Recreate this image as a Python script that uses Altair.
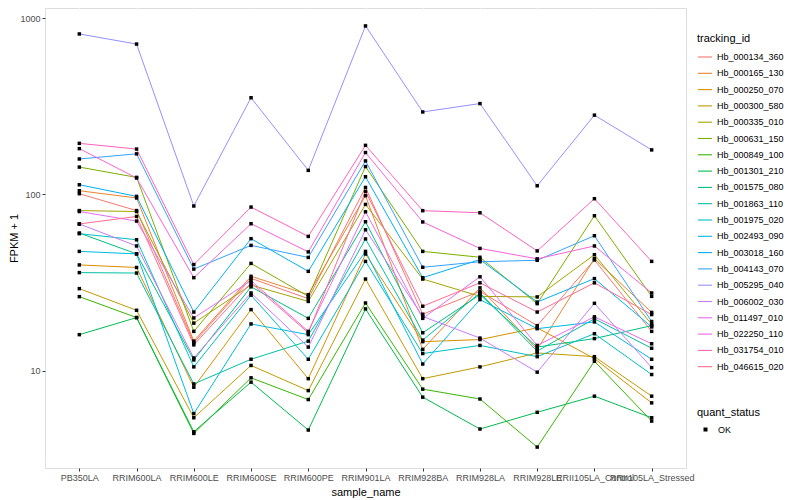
import altair as alt
import pandas as pd

samples = ["PB350LA", "RRIM600LA", "RRIM600LE", "RRIM600SE", "RRIM600PE", "RRIM901LA",
           "RRIM928BA", "RRIM928LA", "RRIM928LE", "RRII105LA_Control", "RRII105LA_Stressed"]

tracking_ids = ["Hb_000134_360", "Hb_000165_130", "Hb_000250_070", "Hb_000300_580",
                "Hb_000335_010", "Hb_000631_150", "Hb_000849_100", "Hb_001301_210",
                "Hb_001575_080", "Hb_001863_110", "Hb_001975_020", "Hb_002493_090",
                "Hb_003018_160", "Hb_004143_070", "Hb_005295_040", "Hb_006002_030",
                "Hb_011497_010", "Hb_022250_110", "Hb_031754_010", "Hb_046615_020"]

# FPKM + 1 per sample, one list per tracking_id
hb_000134_360 = [101, 81, 14.4, 33.4, 25.6, 109.6, 20.9, 28.2, 18.0, 42.5, 16.7]
hb_000165_130 = [105, 95.5, 14.7, 34.3, 27.0, 98.4, 13.2, 29.5, 13.2, 43.2, 21.4]
hb_000250_070 = [39.8, 38.5, 8.05, 22.2, 9.0, 45.9, 14.6, 15.0, 17.5, 11.7, 6.56]
hb_000300_580 = [29.2, 22, 5.4, 10.7, 7.7, 33.1, 9.0, 10.5, 12.6, 12.0, 7.16]
hb_000335_010 = [81, 80, 18.6, 30.6, 24.7, 87.8, 33.1, 26.4, 26.2, 45.5, 18.3]
hb_000631_150 = [143, 125, 16.7, 40.6, 26.4, 144, 47.5, 44.0, 24.0, 75.7, 26.4]
hb_000849_100 = [26.3, 20, 4.4, 9.1, 6.85, 24.2, 7.85, 6.9, 3.68, 11.3, 5.17]
hb_001301_210 = [16, 20, 4.5, 8.6, 4.6, 22.4, 7.07, 4.66, 5.8, 7.16, 5.4]
hb_001575_080 = [60.4, 46, 11.5, 29.9, 19.8, 70, 16.4, 27.0, 13.6, 15.2, 18.0]
hb_001863_110 = [36, 35.8, 8.4, 11.6, 14.7, 55.9, 14.9, 27.6, 12.9, 19.7, 13.4]
hb_001975_020 = [59.9, 55.3, 10.5, 26.8, 11.6, 41.7, 12.5, 13.9, 12.0, 16.2, 9.5]
hb_002493_090 = [47.5, 46, 5.7, 18.4, 16.0, 47.5, 10.9, 25.3, 17.3, 18.9, 11.6]
hb_003018_160 = [113.5, 97.5, 21.5, 56.1, 36.6, 126, 33.7, 42.7, 24.5, 33.3, 17.7]
hb_004143_070 = [159, 170, 37.7, 51.4, 43.9, 155, 38.6, 41.5, 42.3, 58.3, 19.0]
hb_005295_040 = [815, 714, 86, 354, 137, 905, 294, 328, 112, 282, 179]
hb_006002_030 = [68, 51, 11.8, 27.6, 13.6, 63, 20.3, 15.3, 9.8, 24.1, 10.4]
hb_011497_010 = [80, 70.6, 19.9, 32.4, 16.7, 79.7, 19.8, 34.1, 13.9, 20.2, 14.2]
hb_022250_110 = [182, 124, 33.7, 68.2, 47.2, 173, 69.8, 49.4, 43.1, 51, 27.6]
hb_031754_010 = [195, 181, 40, 84.8, 57.8, 190, 80.9, 78.7, 47.8, 94.6, 41.7]
hb_046615_020 = [68, 75, 14.0, 31.5, 16.4, 104, 23.2, 31.5, 21.5, 31.5, 20.8]

series = [hb_000134_360, hb_000165_130, hb_000250_070, hb_000300_580, hb_000335_010,
          hb_000631_150, hb_000849_100, hb_001301_210, hb_001575_080, hb_001863_110,
          hb_001975_020, hb_002493_090, hb_003018_160, hb_004143_070, hb_005295_040,
          hb_006002_030, hb_011497_010, hb_022250_110, hb_031754_010, hb_046615_020]

colors = ["#F8766D", "#EA8331", "#D89000", "#C09B00", "#A3A500", "#7CAE00", "#39B600",
          "#00BB4E", "#00BF7D", "#00C1A3", "#00BFC4", "#00BAE0", "#00B0F6", "#35A2FF",
          "#9590FF", "#C77CFF", "#E76BF3", "#FA62DB", "#FF62BC", "#FF6C91"]

major_breaks = [10, 100, 1000]
minor_breaks = [3.1623, 31.623, 316.23]

rows = []
for tid, vals in zip(tracking_ids, series):
    for i, (s, v) in enumerate(zip(samples, vals)):
        rows.append({"sample_name": s, "idx": i, "tracking_id": tid,
                     "fpkm1": v, "quant_status": "OK"})
df = pd.DataFrame(rows)
df_minor = pd.DataFrame({"fpkm1": minor_breaks})

FONT = "Liberation Sans"

yscale = alt.Scale(type="log", domain=[2.80, 1144], nice=False)
yaxis = alt.Axis(title="FPKM + 1", values=major_breaks, format="d", grid=True,
                 gridColor="white", gridWidth=1.1, domain=False, tickColor="#333333",
                 tickSize=3, labelColor="#4D4D4D", labelFontSize=9, labelPadding=2,
                 titleFontSize=11, titleFontWeight="normal", titleColor="black",
                 titlePadding=0)
xenc = alt.X("sample_name:N", sort=samples,
             scale=alt.Scale(type="point", padding=0.6),
             axis=alt.Axis(title="sample_name", labelAngle=0, grid=True, gridColor="white",
                           gridWidth=1.1, domain=False, tickColor="#333333", tickSize=3,
                           labelColor="#4D4D4D", labelFontSize=9, labelOverlap=False,
                           labelPadding=2, titleFontSize=11, titleFontWeight="normal",
                           titleColor="black", titlePadding=4))

minor = alt.Chart(df_minor).mark_rule(color="white", strokeWidth=0.55).encode(
    y=alt.Y("fpkm1:Q", scale=yscale, axis=yaxis)
)

lines = alt.Chart(df).mark_line(strokeWidth=1.0).encode(
    x=xenc,
    y=alt.Y("fpkm1:Q", scale=yscale, axis=yaxis),
    color=alt.Color("tracking_id:N",
                    scale=alt.Scale(domain=tracking_ids, range=colors),
                    legend=alt.Legend(orient="none", legendX=652, legendY=25,
                                      title="tracking_id", titleFontSize=11,
                                      titleFontWeight="normal", titleColor="black",
                                      titlePadding=5, labelFontSize=9, labelColor="black",
                                      symbolType="stroke", symbolSize=200,
                                      symbolStrokeWidth=1.1, rowPadding=3.3,
                                      labelOffset=4, padding=0)),
    order=alt.Order("idx:Q"),
)

points = alt.Chart(df).mark_point(filled=True, size=12, color="black", opacity=1).encode(
    x=xenc,
    y=alt.Y("fpkm1:Q", scale=yscale, axis=yaxis),
    shape=alt.Shape("quant_status:N", scale=alt.Scale(range=["square"]),
                    legend=alt.Legend(orient="none", legendX=652, legendY=399,
                                      title="quant_status", titleFontSize=11,
                                      titleFontWeight="normal", titleColor="black",
                                      titlePadding=7, labelFontSize=9, labelColor="black",
                                      symbolSize=16, symbolFillColor="black",
                                      symbolStrokeColor="black", symbolOffset=4,
                                      labelOffset=8, padding=0)),
)

chart = alt.layer(minor, lines, points).properties(
    width=641, height=460,
    autosize=alt.AutoSizeParams(type="none"),
    padding={"left": 37, "top": 0, "right": 106, "bottom": 32},
).configure_view(fill="#EBEBEB", strokeWidth=0).configure(font=FONT)

chart.save("out.html", embed_options={"renderer": "svg", "actions": False})
